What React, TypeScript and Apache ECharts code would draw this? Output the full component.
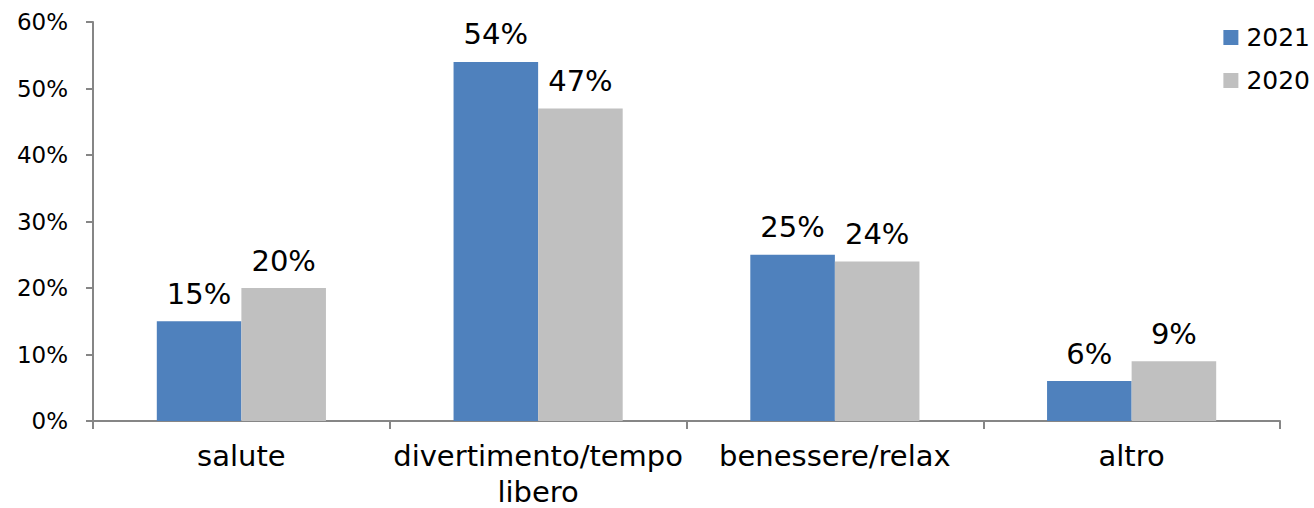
import React, { useEffect, useRef } from "react";
import * as echarts from "echarts";

const categories = ["salute", "divertimento/tempo\nlibero", "benessere/relax", "altro"];
const values2021 = [15, 54, 25, 6];
const values2020 = [20, 47, 24, 9];
const seriesNames = ["2021", "2020"];
const colors = ["#4F81BD", "#C0C0C0"];

export default function App() {
  const ref = useRef<HTMLDivElement>(null);
  useEffect(() => {
    if (!ref.current) return;
    const chart = echarts.init(ref.current, null, { renderer: "svg" });
    const font = "DejaVu Sans";
    const labelStyle = {
      show: true,
      position: "top" as const,
      distance: 13,
      formatter: "{c}%",
      fontFamily: font,
      fontSize: 29,
      color: "#000",
    };
    chart.setOption({
      animation: false,
      backgroundColor: "#fff",
      grid: {
        left: 93,
        right: 34,
        top: 22,
        bottom: 87,
        containLabel: false,
        outerBoundsMode: "none",
      },
      legend: {
        orient: "vertical",
        right: 4,
        top: 25,
        padding: 0,
        itemWidth: 15,
        itemHeight: 15,
        itemGap: 18,
        icon: "rect",
        textStyle: { fontFamily: font, fontSize: 25, color: "#000", lineHeight: 25, padding: [0, 0, 0, 3] },
        data: seriesNames,
      },
      xAxis: {
        type: "category",
        data: categories,
        axisLine: { lineStyle: { color: "#868686", width: 2 } },
        axisTick: { show: true, length: 8, lineStyle: { color: "#868686", width: 2 } },
        axisLabel: {
          interval: 0,
          margin: 17,
          fontFamily: font,
          fontSize: 29,
          lineHeight: 36,
          color: "#000",
        },
      },
      yAxis: {
        type: "value",
        min: 0,
        max: 60,
        interval: 10,
        splitLine: { show: false },
        axisLine: { show: true, lineStyle: { color: "#868686", width: 2 } },
        axisTick: { show: true, length: 7, lineStyle: { color: "#868686", width: 2 } },
        axisLabel: {
          formatter: "{value}%",
          margin: 25,
          fontFamily: font,
          fontSize: 23,
          color: "#000",
        },
      },
      series: [
        {
          name: seriesNames[0],
          type: "bar",
          data: values2021,
          itemStyle: { color: colors[0] },
          barGap: "0%",
          barCategoryGap: "43%",
          label: labelStyle,
        },
        {
          name: seriesNames[1],
          type: "bar",
          data: values2020,
          itemStyle: { color: colors[1] },
          barGap: "0%",
          barCategoryGap: "43%",
          label: labelStyle,
        },
      ],
    });
    return () => chart.dispose();
  }, []);
  return (
    <div
      ref={ref}
      style={{ position: "fixed", left: 0, top: 0, width: 1314, height: 508 }}
    />
  );
}
